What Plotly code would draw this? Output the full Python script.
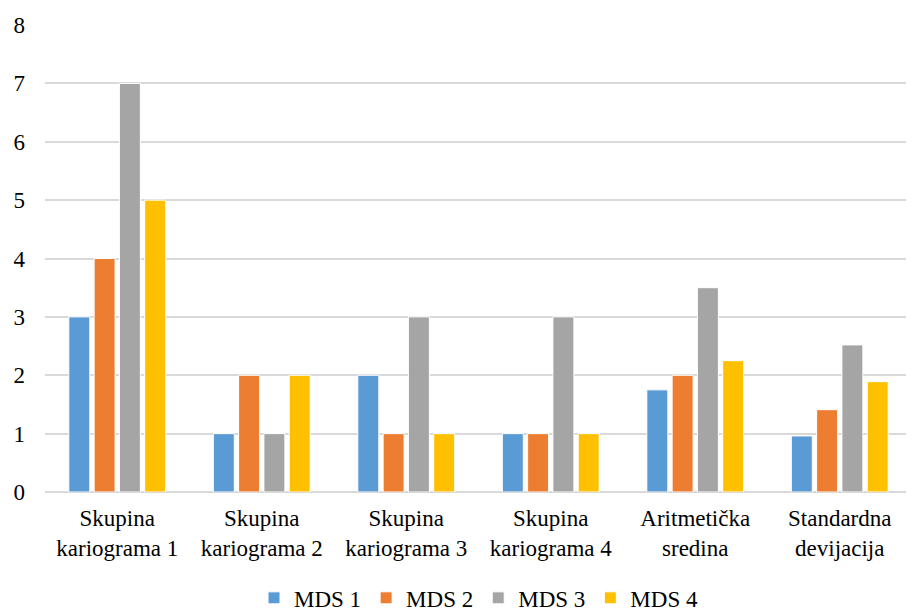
import plotly.graph_objects as go

categories = ["Skupina<br>kariograma 1", "Skupina<br>kariograma 2", "Skupina<br>kariograma 3",
              "Skupina<br>kariograma 4", "Aritmetička<br>sredina", "Standardna<br>devijacija"]
series_names = ["MDS 1", "MDS 2", "MDS 3", "MDS 4"]
mds1 = [3, 1, 2, 1, 1.75, 0.96]
mds2 = [4, 2, 1, 1, 2, 1.41]
mds3 = [7, 1, 3, 3, 3.5, 2.52]
mds4 = [5, 2, 1, 1, 2.25, 1.89]
colors = ["#5B9BD5", "#ED7D31", "#A5A5A5", "#FFC000"]
y_ticks = [0, 1, 2, 3, 4, 5, 6, 7, 8]

fig = go.Figure()
for name, vals, col in zip(series_names, [mds1, mds2, mds3, mds4], colors):
    fig.add_trace(go.Bar(x=categories, y=vals, name=name,
                         marker=dict(color=col, line=dict(color="white", width=1))))

font = "Times New Roman, Liberation Serif, serif"
fs = 23
fig.update_layout(
    width=914, height=610,
    barmode="group", bargap=0.3, bargroupgap=0.17,
    plot_bgcolor="white", paper_bgcolor="white",
    margin=dict(l=37, r=10, t=17, b=126, autoexpand=False),
    font=dict(family=font, size=fs, color="#000000"),
    legend=dict(orientation="h", x=0.5, xanchor="center", yref="container", y=0.033, yanchor="middle",
                font=dict(family=font, size=fs, color="#000000"), itemwidth=30, traceorder="normal"),
    xaxis=dict(showgrid=False, showline=False, ticks="", automargin=False, ticklabelstandoff=10,
               tickfont=dict(family=font, size=fs, color="#000000")),
    yaxis=dict(range=[0, 8], tickvals=y_ticks, showgrid=True, gridcolor="#D9D9D9",
               gridwidth=1.5, zeroline=True, zerolinecolor="#D9D9D9", zerolinewidth=1.5,
               ticks="", ticklabelstandoff=19, automargin=False,
               tickfont=dict(family=font, size=fs, color="#000000")),
)
fig.write_html("out.html")
